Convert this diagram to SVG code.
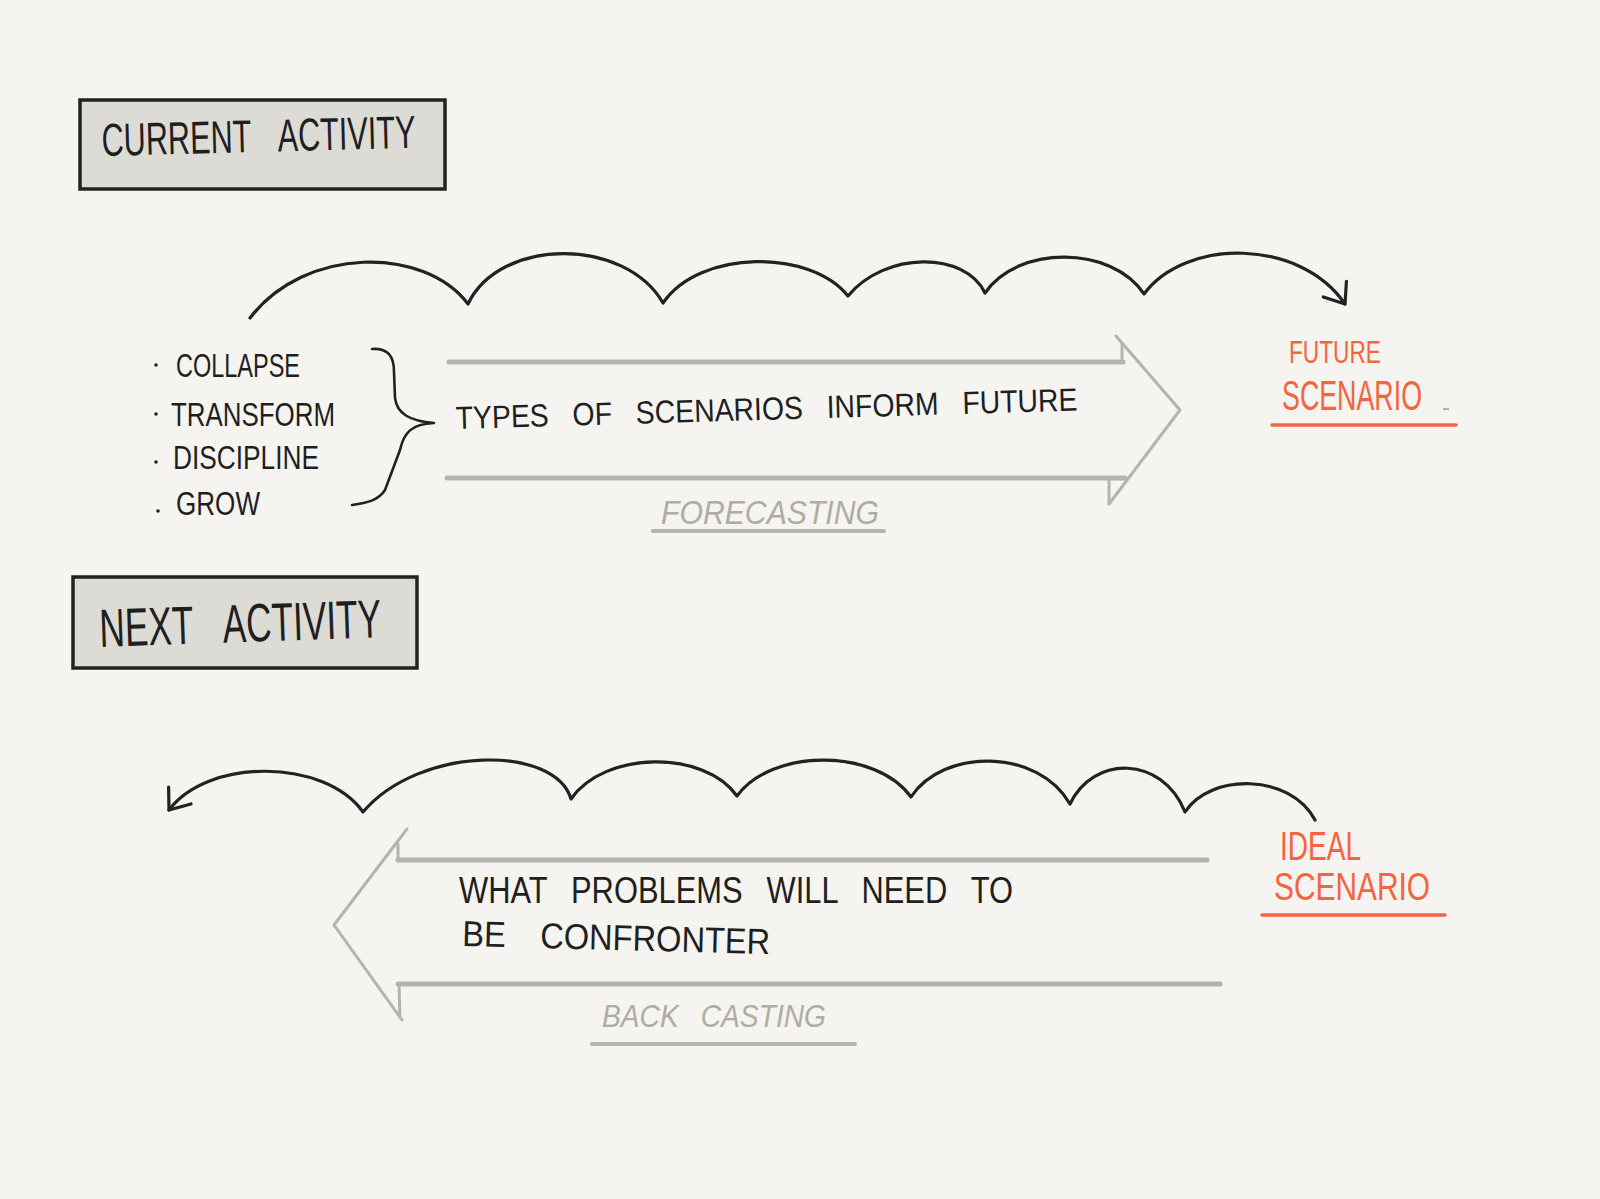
<svg xmlns="http://www.w3.org/2000/svg" width="1600" height="1199" viewBox="0 0 1600 1199">
<defs>
<style>
.bg{fill:#f5f4f0}
.box{fill:#dcdbd6;stroke:#222;stroke-width:3.5}
.ink{font-family:"Liberation Sans",Arial,sans-serif;fill:#1f1f1f}
.gray{font-family:"Liberation Sans",Arial,sans-serif;fill:#aeaca5;font-style:italic}
.org{font-family:"Liberation Sans",Arial,sans-serif;fill:#f4643f}
.curve{fill:none;stroke:#222;stroke-width:3.2;stroke-linecap:round;stroke-linejoin:round}
.band{fill:none;stroke:#b6b3ab;stroke-width:5;stroke-linecap:round}
.head{fill:none;stroke:#b6b3ab;stroke-width:3;stroke-linecap:round;stroke-linejoin:round}
.uline{fill:none;stroke:#b6b3ab;stroke-width:4;stroke-linecap:round}
.oline{fill:none;stroke:#f4643f;stroke-width:3.5;stroke-linecap:round}
.brace{fill:none;stroke:#222;stroke-width:2.6;stroke-linecap:round;stroke-linejoin:round}
.dot{fill:#222}
</style>
<marker id="openhead" markerUnits="userSpaceOnUse" markerWidth="40" markerHeight="40" refX="0" refY="0" viewBox="-30 -20 40 40" orient="auto" overflow="visible">
<path d="M-18,-14 L0,0 L-18,14" fill="none" stroke="#222" stroke-width="3.2" stroke-linecap="round" stroke-linejoin="round"/>
</marker>
</defs>
<rect class="bg" x="0" y="0" width="1600" height="1199"/>

<g id="node-current-activity">
<rect class="box" x="80" y="100" width="365" height="89"/>
<text class="ink" x="102" y="156" font-size="46" word-spacing="30" textLength="314" lengthAdjust="spacingAndGlyphs" transform="rotate(-1.5 102 156)">CURRENT ACTIVITY</text>
</g>

<g id="node-scenario-types">
<circle class="dot" cx="156" cy="365" r="1.8"/>
<circle class="dot" cx="156" cy="414" r="1.8"/>
<circle class="dot" cx="156" cy="462" r="1.8"/>
<circle class="dot" cx="158" cy="511" r="1.8"/>
<text class="ink" x="176" y="377" font-size="34" textLength="124" lengthAdjust="spacingAndGlyphs">COLLAPSE</text>
<text class="ink" x="171" y="426" font-size="34" textLength="164" lengthAdjust="spacingAndGlyphs">TRANSFORM</text>
<text class="ink" x="173" y="469" font-size="34" textLength="146" lengthAdjust="spacingAndGlyphs">DISCIPLINE</text>
<text class="ink" x="176" y="515" font-size="34" textLength="84" lengthAdjust="spacingAndGlyphs">GROW</text>
<path class="brace" d="M372,349 C388,348 394,356 394,372 L395,398 C397,414 410,421 434,423 C412,424 404,432 400,450 L385,490 C378,501 366,503 352,505"/>
</g>

<g id="node-forecasting">
<path class="band" d="M449,362 L1123,362"/>
<path class="band" d="M447,478 L1125,478"/>
<path class="head" d="M1122,343 L1122,362 M1116,336 L1180,410 L1109,504 L1109,480"/>
<text class="ink" x="456" y="429" font-size="32" word-spacing="18" textLength="622" lengthAdjust="spacingAndGlyphs" transform="rotate(-1.7 456 429)">TYPES OF SCENARIOS INFORM FUTURE</text>
<text class="gray" x="661" y="524" font-size="34" textLength="218" lengthAdjust="spacingAndGlyphs">FORECASTING</text>
<path class="uline" d="M653,531 L884,531"/>
</g>

<g id="node-future-scenario">
<text class="org" x="1289" y="363" font-size="32" textLength="92" lengthAdjust="spacingAndGlyphs">FUTURE</text>
<text class="org" x="1282" y="410" font-size="42" textLength="140" lengthAdjust="spacingAndGlyphs">SCENARIO</text>
<path class="oline" d="M1272,425 L1456,425"/>
<path d="M1443,409 L1449,409" stroke="#9a9892" stroke-width="1.5" fill="none"/>
</g>

<g id="node-next-activity">
<rect class="box" x="73" y="577" width="344" height="91"/>
<text class="ink" x="100" y="647" font-size="54" word-spacing="34" textLength="282" lengthAdjust="spacingAndGlyphs" transform="rotate(-2 100 647)">NEXT ACTIVITY</text>
</g>

<g id="node-backcasting">
<path class="band" d="M398,860 L1207,860"/>
<path class="band" d="M398,984 L1220,984"/>
<path class="head" d="M398,844 L398,860 M407,829 L334,925 L402,1020 M399,984 L400,1018"/>
<text class="ink" x="459" y="903" font-size="36" word-spacing="18" textLength="554" lengthAdjust="spacingAndGlyphs">WHAT PROBLEMS WILL NEED TO</text>
<text class="ink" x="462" y="946" font-size="36" word-spacing="28" textLength="308" lengthAdjust="spacingAndGlyphs" transform="rotate(1.5 462 946)">BE CONFRONTER</text>
<text class="gray" x="602" y="1027" font-size="32" word-spacing="16" textLength="224" lengthAdjust="spacingAndGlyphs">BACK CASTING</text>
<path class="uline" d="M592,1044 L855,1044"/>
</g>

<g id="node-ideal-scenario">
<text class="org" x="1280" y="860" font-size="40" textLength="81" lengthAdjust="spacingAndGlyphs">IDEAL</text>
<text class="org" x="1274" y="900" font-size="38" textLength="156" lengthAdjust="spacingAndGlyphs">SCENARIO</text>
<path class="oline" d="M1262,915 L1445,915"/>
</g>

<g id="connectors">
<path class="curve" marker-end="url(#openhead)" d="M250,318 C305,246 424,246 468,304 C500,237 625,237 663,303 C700,249 811,249 848,296 C885,251 965,251 985,293 C1017,245 1112,245 1144,294 C1185,238 1300,238 1345,304"/>
<path class="curve" marker-end="url(#openhead)" d="M1315,820 C1290,773 1210,773 1185,812 C1162,755 1093,755 1070,804 C1038,748 943,748 911,797 C876,748 772,748 737,796 C705,750 605,750 571,799 C555,745 420,745 363,812 C324,758 208,758 169,810"/>
</g>
</svg>
